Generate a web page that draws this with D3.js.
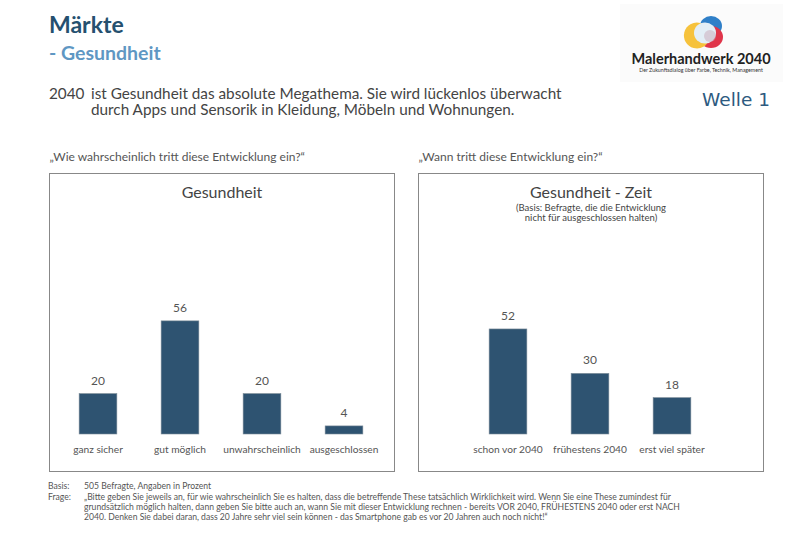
<!DOCTYPE html>
<html>
<head>
<meta charset="utf-8">
<script src="https://cdn.jsdelivr.net/npm/d3@7"></script>
<style>
  body { margin: 0; background: #fff; }
  text { font-family: Lato, "Open Sans", sans-serif; }
</style>
</head>
<body>
<div id="chart"></div>
<script>
// data
var likelyCats = ["ganz sicher", "gut möglich", "unwahrscheinlich", "ausgeschlossen"];
var likelyVals = [20, 56, 20, 4];
var whenCats = ["schon vor 2040", "frühestens 2040", "erst viel später"];
var whenVals = [52, 30, 18];

var width = 800, height = 554;
var barColor = "#2e5371";
var textColor = "#555";

var svg = d3.select("#chart").append("svg")
    .attr("width", width)
    .attr("height", height);

// header
svg.append("text").attr("x", 49).attr("y", 33)
    .attr("font-size", 23).attr("font-weight", 700).attr("fill", "#25506f")
    .text("Märkte");
svg.append("text").attr("x", 49).attr("y", 60)
    .attr("font-size", 19.5).attr("font-weight", 700).attr("fill", "#5f97c3")
    .text("- Gesundheit");

svg.append("text").attr("x", 49).attr("y", 99)
    .attr("font-size", 15.3).attr("fill", "#444")
    .text("2040");
svg.append("text").attr("x", 91).attr("y", 99)
    .attr("font-size", 15.3).attr("fill", "#444")
    .text("ist Gesundheit das absolute Megathema. Sie wird lückenlos überwacht");
svg.append("text").attr("x", 91).attr("y", 115)
    .attr("font-size", 15.3).attr("fill", "#444")
    .text("durch Apps und Sensorik in Kleidung, Möbeln und Wohnungen.");

svg.append("text").attr("x", 770).attr("y", 106)
    .attr("text-anchor", "end")
    .attr("style", "font-family:'DejaVu Sans'")
    .attr("font-size", 18.5).attr("fill", "#2d5a80")
    .text("Welle 1");

// logo
svg.append("rect").attr("x", 620).attr("y", 4).attr("width", 163).attr("height", 78)
    .attr("fill", "#fbfbfb");
var logo = svg.append("g").attr("transform", "translate(703,32)");
logo.append("ellipse").attr("cx", 8).attr("cy", -6).attr("rx", 11).attr("ry", 10)
    .attr("fill", "#2f7fc8");
logo.append("ellipse").attr("cx", 8).attr("cy", 5).attr("rx", 12).attr("ry", 11)
    .attr("fill", "#e0354a");
logo.append("ellipse").attr("cx", -7).attr("cy", 0).attr("rx", 13).attr("ry", 13)
    .attr("fill", "#f6c23c").attr("transform", "rotate(-30)");
logo.append("ellipse").attr("cx", 2).attr("cy", 1).attr("rx", 11).attr("ry", 10.5)
    .attr("fill", "#e3eef6");
logo.append("ellipse").attr("cx", 7).attr("cy", 4).attr("rx", 6).attr("ry", 6)
    .attr("fill", "#c9a7b8").attr("opacity", 0.5);
svg.append("text").attr("x", 701).attr("y", 64)
    .attr("text-anchor", "middle")
    .attr("font-size", 14.5).attr("font-weight", 700).attr("fill", "#222")
    .text("Malerhandwerk 2040");
svg.append("text").attr("x", 701).attr("y", 72)
    .attr("text-anchor", "middle")
    .attr("font-size", 5.3).attr("fill", "#333")
    .text("Der Zukunftsdialog über Farbe, Technik, Management");

// shared value scale
var y = d3.scaleLinear().domain([0, 100]).range([434, 232]);

function panel(opts) {
    var g = svg.append("g");

    g.append("text").attr("x", opts.x0).attr("y", 161)
        .attr("font-size", 12).attr("fill", textColor)
        .text(opts.question);

    g.append("rect")
        .attr("x", opts.x0).attr("y", 173.5)
        .attr("width", 345).attr("height", 298)
        .attr("fill", "none").attr("stroke", "#888").attr("stroke-width", 1);

    var cx = opts.x0 + 172.5;
    g.append("text").attr("x", cx).attr("y", 198)
        .attr("text-anchor", "middle").attr("font-size", 16).attr("fill", "#444")
        .text(opts.title);
    opts.sub.forEach(function (s, i) {
        g.append("text").attr("x", cx).attr("y", 211 + i * 10)
            .attr("text-anchor", "middle").attr("font-size", 9.5).attr("fill", "#444")
            .text(s);
    });

    var x = d3.scaleBand()
        .domain(opts.cats)
        .range(opts.range)
        .paddingInner(0.54)
        .paddingOuter(0.27);

    var data = opts.cats.map(function (c, i) { return { cat: c, val: opts.vals[i] }; });

    g.selectAll(".bar").data(data).enter().append("rect")
        .attr("class", "bar")
        .attr("x", function (d) { return x(d.cat); })
        .attr("y", function (d) { return y(d.val); })
        .attr("width", x.bandwidth())
        .attr("height", function (d) { return y(0) - y(d.val); })
        .attr("fill", barColor)
        .attr("stroke", "#7a8a96").attr("stroke-width", 0.6);

    g.selectAll(".val").data(data).enter().append("text")
        .attr("class", "val")
        .attr("x", function (d) { return x(d.cat) + x.bandwidth() / 2; })
        .attr("y", function (d) { return y(d.val) - 9; })
        .attr("text-anchor", "middle").attr("font-size", 12).attr("fill", textColor)
        .text(function (d) { return d.val; });

    var axis = g.append("g")
        .attr("transform", "translate(0," + y(0) + ")")
        .call(d3.axisBottom(x).tickSize(0).tickPadding(12));
    axis.select(".domain").remove();
    axis.selectAll("text")
        .attr("font-size", 10.2).attr("fill", textColor)
        .attr("font-family", "Lato, 'Open Sans', sans-serif");
}

panel({
    x0: 49.5,
    question: "\u201EWie wahrscheinlich tritt diese Entwicklung ein?\u201C",
    title: "Gesundheit",
    sub: [],
    cats: likelyCats,
    vals: likelyVals,
    range: [57, 385]
});

panel({
    x0: 418.5,
    question: "\u201EWann tritt diese Entwicklung ein?\u201C",
    title: "Gesundheit - Zeit",
    sub: ["(Basis: Befragte, die die Entwicklung", "nicht für ausgeschlossen halten)"],
    cats: whenCats,
    vals: whenVals,
    range: [467, 713]
});

// footer
var foot = svg.append("g").attr("font-size", 8.6).attr("fill", "#555");
foot.append("text").attr("x", 48).attr("y", 489).text("Basis:");
foot.append("text").attr("x", 84).attr("y", 489).text("505 Befragte, Angaben in Prozent");
foot.append("text").attr("x", 48).attr("y", 500).text("Frage:");
var frage = [
    "\u201EBitte geben Sie jeweils an, für wie wahrscheinlich Sie es halten, dass die betreffende These tatsächlich Wirklichkeit wird. Wenn Sie eine These zumindest für",
    "grundsätzlich möglich halten, dann geben Sie bitte auch an, wann Sie mit dieser Entwicklung rechnen  - bereits VOR 2040, FRÜHESTENS 2040 oder erst NACH",
    "2040. Denken Sie dabei daran, dass 20 Jahre sehr viel sein können - das Smartphone gab es vor 20 Jahren auch noch nicht!\u201C"
];
frage.forEach(function (l, i) {
    foot.append("text").attr("x", 84).attr("y", 500 + i * 10).text(l);
});
</script>
</body>
</html>
